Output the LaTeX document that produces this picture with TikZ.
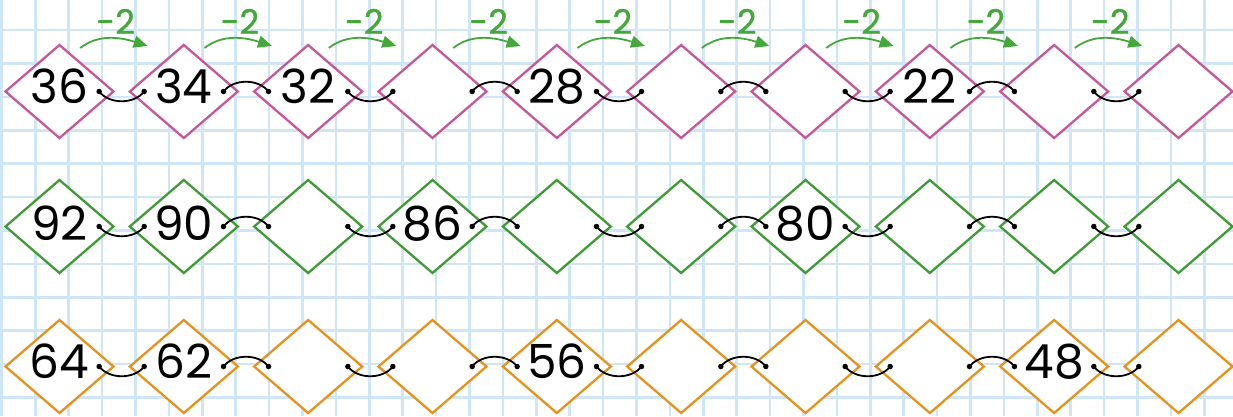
\documentclass[tikz,border=0pt]{standalone}
\usepackage{fontspec}
\usetikzlibrary{arrows.meta,shapes.geometric}
\newfontfamily\numfont{Poppins}
\newfontfamily\labfont[FakeBold=1]{Poppins}
\definecolor{pinkc}{HTML}{C6579A}
\definecolor{greenc}{HTML}{3E9B36}
\definecolor{orangec}{HTML}{E8921E}
\definecolor{arrowg}{HTML}{45A83A}
\definecolor{gridc}{HTML}{CFE6F8}
\begin{document}
\begin{tikzpicture}[x=1pt,y=-1pt,
  dia/.style={shape=diamond, draw, fill=white, line width=2.3pt, minimum width=108pt, minimum height=93pt, inner sep=0pt, outer sep=0pt},
  dotn/.style={circle, fill=black, inner sep=0pt, minimum size=5.5pt},
  link/.style={line width=1.8pt, black},
  num/.style={font=\numfont\fontsize{47}{47}\selectfont, anchor=base, inner sep=0pt},
  lab/.style={font=\labfont\fontsize{34}{34}\selectfont, text=arrowg, anchor=base, inner sep=0pt},
  arr/.style={arrowg, line width=1.8pt, -{Triangle[length=14pt,width=12pt]}},
  gridl/.style={gridc, line width=2.6pt}]
\fill[white] (0,0) rectangle (1233,416);
\useasboundingbox (0,0) rectangle (1233,416);
% grid
\foreach \k in {0,...,36} \draw[gridl] ({1.8+33.4*\k},0) -- ({1.8+33.4*\k},416);
\foreach \k in {1,...,12} \draw[gridl] (0,{-3.4+33.4*\k}) -- (1233,{-3.4+33.4*\k});
% diamonds
\foreach \r/\yy/\col in {1/91.5/pinkc,2/226.5/greenc,3/366.5/orangec}{
  \foreach \i in {1,...,10}{
    \node[dia, draw=\col] (d\r-\i) at ({59.5+124.33*(\i-1)},\yy) {};
  }
}
% connectors
\foreach \r/\yy in {1/91.5,2/226.5,3/366.5}{
  \foreach \i in {1,...,9}{
    \pgfmathsetmacro\g{59.5+124.33*(\i-1)+62.17}
    \pgfmathsetmacro\s{13*(1-2*mod(\i+1,2))}
    \node[dotn] (p\r-\i) at ({\g-22.5},\yy) {};
    \node[dotn] (q\r-\i) at ({\g+22.5},\yy) {};
    \draw[link] (p\r-\i.center) .. controls +(10,\s) and +(-10,\s) .. (q\r-\i.center);
  }
}
% -2 arrows
\foreach \i in {1,...,9}{
  \pgfmathsetmacro\g{59.5+124.33*(\i-1)+62.17}
  \coordinate (s\i) at ({\g-41.5},48);
  \coordinate (e\i) at ({\g+26},46);
  \draw[arr] (s\i) .. controls +(18,-14) and +(-28,-9) .. (e\i);
  \node[lab] (l\i) at ({\g-6},34) {-2};
}
% numbers
\foreach \r/\i/\v/\b in {1/1/36/103.5,1/2/34/103.5,1/3/32/103.5,1/5/28/103.5,1/8/22/103.5,
  2/1/92/240,2/2/90/240,2/4/86/240,2/7/80/240,
  3/1/64/378,3/2/62/378,3/5/56/378,3/9/48/378}{
  \node[num] (n\r-\i) at ({59.5+124.33*(\i-1)},\b) {\v};
}
\end{tikzpicture}
\end{document}
